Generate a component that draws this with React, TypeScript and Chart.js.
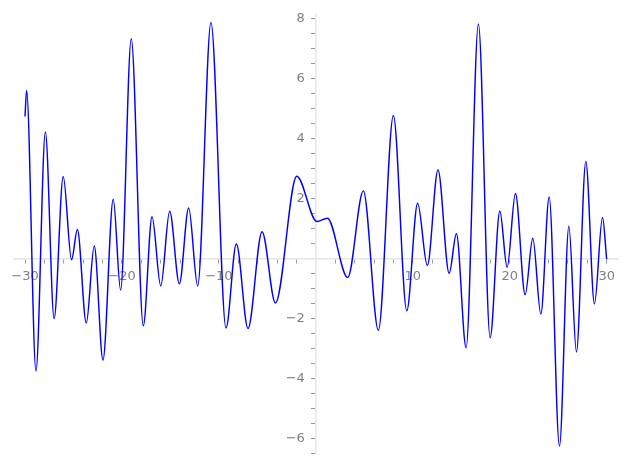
import React, { useEffect, useRef } from "react";
import { Chart, registerables } from "chart.js";

Chart.register(...registerables);

// Curve samples (x, y): local extrema and end points
const xValues = [
  -30.0, -29.84, -28.87, -27.9, -27.0, -26.06, -25.2, -24.6, -23.68, -22.86,
  -21.96, -20.9, -20.14, -19.04, -17.8, -16.9, -16.0, -15.08, -14.08, -13.12,
  -12.19, -10.82, -9.27, -8.2, -7.0, -5.55, -4.17, -1.97, 0.1, 1.19,
  3.29, 4.9, 6.45, 8.0, 9.38, 10.5, 11.5, 12.6, 13.75, 14.5,
  15.5, 16.77, 17.98, 18.98, 19.73, 20.59, 21.59, 22.38, 23.21, 24.07,
  25.13, 26.1, 26.88, 27.85, 28.74, 29.57, 30.0,
];
const yValues = [
  4.74, 5.61, -3.75, 4.22, -2.0, 2.74, -0.04, 0.97, -2.15, 0.42,
  -3.38, 1.98, -1.05, 7.33, -2.24, 1.4, -0.91, 1.58, -0.84, 1.69,
  -0.91, 7.87, -2.31, 0.49, -2.33, 0.9, -1.48, 2.75, 1.24, 1.35,
  -0.63, 2.26, -2.39, 4.77, -1.74, 1.85, -0.23, 2.96, -0.49, 0.83,
  -2.97, 7.82, -2.64, 1.59, -0.29, 2.17, -1.2, 0.68, -1.85, 2.06,
  -6.25, 1.08, -3.11, 3.24, -1.51, 1.37, -0.02,
];

// Axis ranges and tick positions
const xRange = [-31.2, 31.2];
const yRange = [-6.52, 8.13];
const xMajorTicks = [-30, -20, -10, 10, 20, 30];
const yMajorTicks = [-6, -4, -2, 2, 4, 6, 8];
const xMinorStep = 2;
const yMinorStep = 0.5;

const fmt = (v: number) => (v < 0 ? "\u2212" + Math.abs(v) : String(v));

function buildTicks(min: number, max: number, step: number) {
  const out: { value: number }[] = [];
  const start = Math.ceil(min / step) * step;
  for (let v = start; v <= max + 1e-9; v += step) {
    out.push({ value: Math.round(v * 1000) / 1000 });
  }
  return out;
}

export default function App() {
  const ref = useRef<HTMLCanvasElement | null>(null);

  useEffect(() => {
    if (!ref.current) return;
    const points = xValues.map((x, i) => ({ x, y: yValues[i] }));
    const labelColor = "#808080";
    const chart = new Chart(ref.current, {
      type: "line",
      data: {
        datasets: [
          {
            data: points,
            borderColor: "#0000ff",
            borderWidth: 1.45,
            pointRadius: 0,
            fill: false,
            cubicInterpolationMode: "monotone",
          },
        ],
      },
      options: {
        responsive: false,
        animation: false,
        layout: { padding: { left: 13.4, right: 8.7, top: 11.1, bottom: 10.1 } },
        plugins: { legend: { display: false }, tooltip: { enabled: false } },
        scales: {
          x: {
            type: "linear",
            position: { y: 0 } as any,
            min: xRange[0],
            max: xRange[1],
            afterFit: (s: any) => {
              s.height = 0;
            },
            afterBuildTicks: (s: any) => {
              s.ticks = buildTicks(xRange[0], xRange[1], xMinorStep);
            },
            grid: {
              drawOnChartArea: false,
              drawTicks: true,
              tickLength: 4,
              tickColor: "#999999",
              tickWidth: 1,
            },
            border: { display: true, color: "#e6e6e6", width: 1.5 },
            ticks: {
              autoSkip: false,
              maxRotation: 0,
              padding: 6,
              color: labelColor,
              font: { family: "DejaVu Sans", size: 13 },
              callback: (v: any) =>
                xMajorTicks.includes(Number(v)) ? fmt(Number(v)) : "",
            },
          },
          y: {
            type: "linear",
            position: { x: 0 } as any,
            min: yRange[0],
            max: yRange[1],
            afterFit: (s: any) => {
              s.width = 0;
            },
            afterBuildTicks: (s: any) => {
              s.ticks = buildTicks(yRange[0], yRange[1], yMinorStep);
            },
            afterUpdate: (s: any) => {
              const orig = Object.getPrototypeOf(s)._computeLabelItems;
              s._computeLabelItems = function (ca: any) {
                const items = orig.call(this, ca);
                items.forEach((it: any) => {
                  if (it.options && it.options.translation) {
                    it.options.translation[0] -= 11;
                  }
                });
                return items;
              };
            },
            grid: {
              drawOnChartArea: false,
              drawTicks: true,
              tickLength: 4,
              tickColor: "#999999",
              tickWidth: 1,
            },
            border: { display: true, color: "#e6e6e6", width: 1.5 },
            ticks: {
              autoSkip: false,
              padding: 7,
              color: labelColor,
              font: { family: "DejaVu Sans", size: 13 },
              callback: (v: any) =>
                yMajorTicks.includes(Number(v)) ? fmt(Number(v)) : "",
            },
          },
        },
      },
    });
    return () => chart.destroy();
  }, []);

  return (
    <div style={{ position: "absolute", left: 0, top: 0, width: 627, height: 469 }}>
      <canvas ref={ref} width={627} height={469} style={{ display: "block" }} />
    </div>
  );
}
